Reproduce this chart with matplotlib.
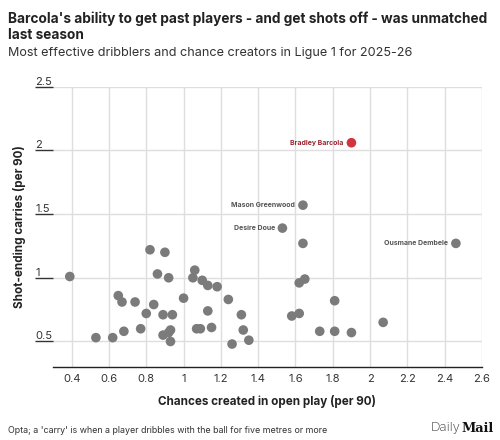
import numpy as np
import matplotlib.pyplot as plt
import matplotlib.transforms as mtransforms

plt.rcParams['font.family'] = ['Inter', 'DejaVu Sans']

# chances created in open play (per 90) / shot-ending carries (per 90)
chances = [0.39, 0.53, 0.62, 0.68, 0.65, 0.67, 0.74, 0.77, 0.80, 0.82,
           0.90, 0.86, 0.92, 0.84, 0.89, 0.94, 0.89, 0.93, 0.92, 0.93,
           1.00, 1.06, 1.05, 1.10, 1.13, 1.18, 1.13, 1.07, 1.09, 1.15,
           1.24, 1.31, 1.32, 1.26, 1.35, 1.64, 1.65, 1.62, 1.81, 1.58,
           1.62, 1.73, 1.81, 1.90, 2.07]
carries = [1.01, 0.53, 0.53, 0.58, 0.86, 0.81, 0.81, 0.60, 0.72, 1.22,
           1.20, 1.03, 1.00, 0.79, 0.71, 0.71, 0.55, 0.59, 0.57, 0.50,
           0.84, 1.06, 1.00, 0.98, 0.94, 0.93, 0.74, 0.60, 0.60, 0.61,
           0.83, 0.71, 0.59, 0.48, 0.51, 1.27, 0.99, 0.96, 0.82, 0.70,
           0.72, 0.58, 0.58, 0.57, 0.65]

named = ['Mason Greenwood', 'Desire Doue', 'Ousmane Dembele']
named_x = [1.64, 1.53, 2.46]
named_y = [1.57, 1.39, 1.27]

star = 'Bradley Barcola'
star_x = 1.90
star_y = 2.06

xticks = [0.4, 0.6, 0.8, 1.0, 1.2, 1.4, 1.6, 1.8, 2.0, 2.2, 2.4, 2.6]
xtick_labels = ['0.4', '0.6', '0.8', '1', '1.2', '1.4', '1.6', '1.8', '2', '2.2', '2.4', '2.6']
yticks = [0.5, 1.0, 1.5, 2.0, 2.5]
ytick_labels = ['0.5', '1', '1.5', '2', '2.5']

grey = '#7b7b7b'
red = '#d1343c'

fig = plt.figure(figsize=(5, 4.4), dpi=100)
ax = fig.add_axes([0.106, 0.166, 0.858, 0.637])

ax.scatter(chances, carries, s=48, color=grey, edgecolors='none', zorder=3)
ax.scatter(named_x, named_y, s=48, color=grey, edgecolors='none', zorder=3)
ax.scatter([star_x], [star_y], s=48, color=red, edgecolors='none', zorder=3)

for n, xx, yy in zip(named, named_x, named_y):
    ax.annotate(n, (xx, yy), xytext=(-5.5, 0), textcoords='offset points',
                ha='right', va='center', fontsize=5, fontweight='bold', color='#555555')
ax.annotate(star, (star_x, star_y), xytext=(-5.5, 0), textcoords='offset points',
            ha='right', va='center', fontsize=5, fontweight='bold', color='#9b2530')

ax.set_xlim(0.3, 2.6)
ax.set_ylim(0.3, 2.5)
ax.set_xticks(xticks)
ax.set_xticklabels(xtick_labels)
ax.set_yticks(yticks)
ax.set_yticklabels([])
ax.grid(True, color='#dedede', linewidth=1)
ax.set_axisbelow(True)

for s in ['top', 'right', 'left']:
    ax.spines[s].set_visible(False)
ax.spines['bottom'].set_color('#222222')
ax.spines['bottom'].set_linewidth(1)
ax.tick_params(axis='x', length=0, pad=5, labelsize=8, labelcolor='#333333')
ax.tick_params(axis='y', length=13, width=1, color='#333333', direction='out')

trans = mtransforms.blended_transform_factory(ax.transAxes, ax.transData)
for v, lab in zip(yticks, ytick_labels):
    ax.text(-0.041, v, lab, transform=trans, ha='left', va='bottom',
            fontsize=8, color='#333333')

ax.set_xlabel('Chances created in open play (per 90)', fontsize=8.4,
              fontweight='bold', color='#222222', labelpad=8)
ax.set_ylabel('Shot-ending carries (per 90)', fontsize=8.4,
              fontweight='bold', color='#222222')
ax.yaxis.set_label_coords(-0.064, 0.5)

fig.text(0.016, 0.974, "Barcola's ability to get past players - and get shots off - was unmatched\nlast season",
         ha='left', va='top', fontsize=9.85, fontweight='bold', color='#222222', linespacing=1.15)
fig.text(0.016, 0.879, 'Most effective dribblers and chance creators in Ligue 1 for 2025-26',
         ha='left', va='center', fontsize=9.1, color='#333333')
fig.text(0.016, 0.022, "Opta; a 'carry' is when a player dribbles with the ball for five metres or more",
         ha='left', va='center', fontsize=6.4, color='#333333')
fig.text(0.922, 0.027, 'Daily', ha='right', va='center', fontsize=9.5, color='#333333',
         fontweight='light')
fig.text(0.922, 0.027, 'Mail', ha='left', va='center', fontsize=9.3, color='#111111',
         fontweight='bold', family='DejaVu Serif')

fig.savefig('out.png', dpi=100, facecolor='white')
